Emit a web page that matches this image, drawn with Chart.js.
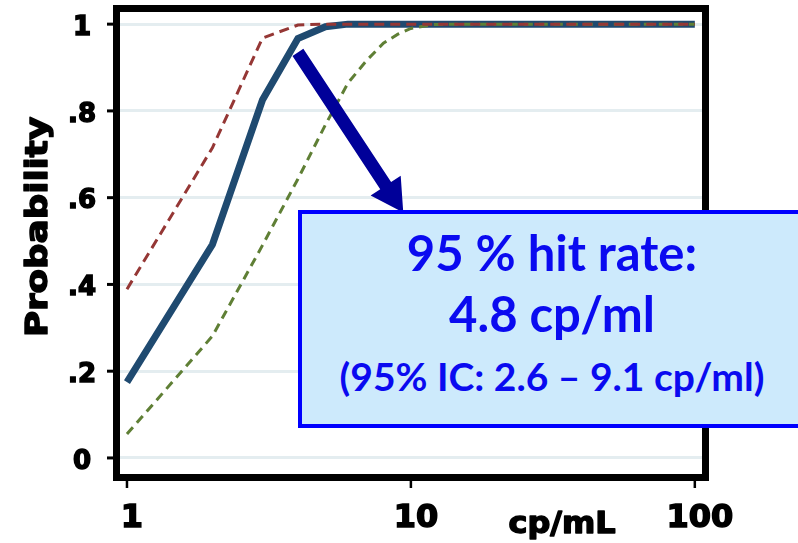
<!DOCTYPE html>
<html>
<head>
<meta charset="utf-8">
<script src="https://cdn.jsdelivr.net/npm/chart.js@4.4.1/dist/chart.umd.min.js"></script>
<style>
    html, body { margin: 0; padding: 0; background: #fff; overflow: hidden; }
    #wrap { position: relative; width: 798px; height: 543px; }
    #hitBox {
        position: absolute;
        left: 298px; top: 210px;
        width: 520px; height: 202px;
        border: 4px solid #0000ff;
        background: #cdeafc;
        color: #0a0af0;
        font-family: Lato, "Open Sans", sans-serif;
        font-weight: bold;
        box-sizing: content-box;
        padding-top: 8px;
    }
    #hitBox div { width: 500px; text-align: center; white-space: nowrap; }
    #hitBox .big { font-size: 49px; line-height: 61px; }
    #hitBox .small { font-size: 39px; line-height: 64px; }
</style>
</head>
<body>
<div id="wrap">
    <canvas id="probitChart" width="798" height="543"></canvas>
    <div id="hitBox">
        <div class="big">95 % hit rate:</div>
        <div class="big">4.8 cp/ml</div>
        <div class="small">(95% IC: 2.6 – 9.1 cp/ml)</div>
    </div>
</div>

<script>
// ==============================
// Probit hit-rate chart
// ==============================

// Concentrations (cp/mL)
const concentrations = [1, 2, 3, 4, 5, 6, 7, 8, 9, 10, 12, 15, 20, 30, 50, 100];

// Fitted probability + 95% confidence band
const hitRate = [0.175, 0.492, 0.825, 0.967, 0.994, 1, 1, 1, 1, 1, 1, 1, 1, 1, 1, 1];
const upperCI = [0.389, 0.715, 0.968, 0.998, 1, 1, 1, 1, 1, 1, 1, 1, 1, 1, 1, 1];
const lowerCI = [0.055, 0.281, 0.49, 0.643, 0.768, 0.864, 0.917, 0.956, 0.977, 0.99, 0.999, 1, 1, 1, 1, 1];

// Tick labels
const xTicks = [1, 10, 100];
const yTicks = [0, 0.2, 0.4, 0.6, 0.8, 1];
const yTickLabels = ["0", ".2", ".4", ".6", ".8", "1"];

// Arrow from the curve to the box (data coords)
const arrowFrom = [4, 0.935];
const arrowTo = [9.4, 0.566];

const toPoints = (ys) => concentrations.map((x, i) => ({ x: x, y: ys[i] }));

// -----------------------------
// Frame, ticks, arrow, titles
// -----------------------------

function heavyText(ctx, text, x, y, font, sx) {
    ctx.save();
    ctx.translate(x, y);
    ctx.scale(sx, 1);
    ctx.font = font;
    ctx.lineWidth = 1.5;
    ctx.lineJoin = "round";
    ctx.fillText(text, 0, 0);
    ctx.strokeText(text, 0, 0);
    ctx.restore();
}

const decorations = {
    id: "decorations",
    afterDraw(chart) {
        const ctx = chart.ctx;
        const ca = chart.chartArea;
        const xs = chart.scales.x;
        const ys = chart.scales.y;

        ctx.save();

        // thick black frame
        ctx.strokeStyle = "#000";
        ctx.lineWidth = 7;
        ctx.strokeRect(ca.left - 3.5, ca.top - 3.5, ca.width + 7, ca.height + 7);

        // small outside tick marks
        ctx.lineWidth = 3;
        yTicks.forEach(v => {
            const py = ys.getPixelForValue(v);
            ctx.beginPath();
            ctx.moveTo(ca.left - 13, py);
            ctx.lineTo(ca.left - 7, py);
            ctx.stroke();
        });
        ctx.lineWidth = 2.5;
        xTicks.forEach(v => {
            const px = xs.getPixelForValue(v);
            ctx.beginPath();
            ctx.moveTo(px, ca.bottom + 6);
            ctx.lineTo(px, ca.bottom + 14);
            ctx.stroke();
        });

        // arrow
        const sx = xs.getPixelForValue(arrowFrom[0]);
        const sy = ys.getPixelForValue(arrowFrom[1]);
        const tx = xs.getPixelForValue(arrowTo[0]);
        const ty = ys.getPixelForValue(arrowTo[1]);
        const len = Math.hypot(tx - sx, ty - sy);
        const ux = (tx - sx) / len, uy = (ty - sy) / len;
        const nx = -uy, ny = ux;
        const headLen = 32, headHalf = 18, shaftHalf = 6.5;
        const bx = tx - ux * headLen, by = ty - uy * headLen;
        ctx.fillStyle = "#000099";
        ctx.beginPath();
        ctx.moveTo(sx + nx * shaftHalf, sy + ny * shaftHalf);
        ctx.lineTo(bx + nx * shaftHalf, by + ny * shaftHalf);
        ctx.lineTo(bx + nx * headHalf, by + ny * headHalf);
        ctx.lineTo(tx, ty);
        ctx.lineTo(bx - nx * headHalf, by - ny * headHalf);
        ctx.lineTo(bx - nx * shaftHalf, by - ny * shaftHalf);
        ctx.lineTo(sx - nx * shaftHalf, sy - ny * shaftHalf);
        ctx.closePath();
        ctx.fill();

        // axis titles
        ctx.fillStyle = "#000";
        ctx.strokeStyle = "#000";
        ctx.textAlign = "center";
        ctx.textBaseline = "alphabetic";

        ctx.save();
        ctx.translate(47, 227);
        ctx.rotate(-Math.PI / 2);
        heavyText(ctx, "Probability", 0, 0, "bold 31px 'DejaVu Sans'", 1.15);
        ctx.restore();

        heavyText(ctx, "cp/mL", 562, 533, "bold 31px 'DejaVu Sans'", 1.03);

        ctx.restore();
    }
};

// -----------------------------
// Line Chart
// -----------------------------

const probitChart = new Chart(
    document.getElementById("probitChart"),
    {
        type: "line",
        data: {
            datasets: [
                {
                    label: "Upper 95% CI",
                    data: toPoints(upperCI),
                    borderColor: "#953735",
                    borderWidth: 3,
                    borderDash: [10, 6],
                    order: 0
                },
                {
                    label: "Lower 95% CI",
                    data: toPoints(lowerCI),
                    borderColor: "#5f7f35",
                    borderWidth: 3,
                    borderDash: [9, 6],
                    order: 1
                },
                {
                    label: "Hit rate",
                    data: toPoints(hitRate),
                    borderColor: "#1f4a70",
                    borderWidth: 7,
                    order: 2
                }
            ]
        },
        options: {
            responsive: false,
            animation: false,
            layout: { padding: { left: 0, right: 96, top: 12, bottom: 0 } },
            elements: { point: { radius: 0 }, line: { tension: 0, fill: false } },
            plugins: {
                legend: { display: false },
                tooltip: { enabled: false }
            },
            scales: {
                x: {
                    type: "logarithmic",
                    min: 0.945,
                    max: 106,
                    afterBuildTicks: s => { s.ticks = xTicks.map(v => ({ value: v })); },
                    afterFit: s => { s.height = 69; s.paddingLeft = 0; s.paddingRight = 0; },
                    grid: { display: false, drawTicks: false },
                    border: { display: false },
                    ticks: {
                        autoSkip: false,
                        maxRotation: 0,
                        padding: 25,
                        labelOffset: 5,
                        color: "#000",
                        textStrokeColor: "#000",
                        textStrokeWidth: 1.5,
                        font: { family: "DejaVu Sans", weight: "bold", size: 32 },
                        callback: v => String(v)
                    }
                },
                y: {
                    min: -0.037,
                    max: 1.028,
                    afterBuildTicks: s => { s.ticks = yTicks.map(v => ({ value: v })); },
                    afterFit: s => { s.width = 120; s.paddingTop = 0; s.paddingBottom = 0; },
                    grid: { color: "#e4edf0", lineWidth: 3, drawTicks: false },
                    border: { display: false },
                    ticks: {
                        padding: 24,
                        crossAlign: "center",
                        labelOffset: 4,
                        color: "#000",
                        textStrokeColor: "#000",
                        textStrokeWidth: 1.5,
                        font: { family: "DejaVu Sans", weight: "bold", size: 26 },
                        callback: v => yTickLabels[yTicks.indexOf(v)] ?? ""
                    }
                }
            }
        },
        plugins: [decorations]
    }
);
</script>
</body>
</html>
